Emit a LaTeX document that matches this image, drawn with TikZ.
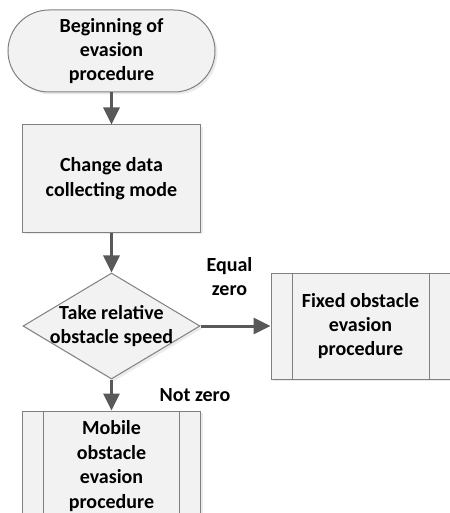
\documentclass[tikz,border=0pt]{standalone}
\usepackage{fontspec}
\setmainfont{Carlito}
\usepackage{tikz}
\usetikzlibrary{arrows.meta,positioning,shapes.geometric,shadows}
\definecolor{Edge}{HTML}{808080}
\definecolor{Pale}{HTML}{F2F2F2}
\definecolor{Ink}{HTML}{595959}

\begin{document}
\begin{tikzpicture}[node distance=16pt,font=\bfseries\fontsize{10}{12.2}\selectfont,
        base/.style={draw=Edge,line width=.5pt,fill=Pale,align=center,
          drop shadow={shadow xshift=1.2pt,shadow yshift=-1.2pt,fill=black,opacity=.08}},
        term/.style={base,rounded corners=20.5pt,minimum width=103.5pt,minimum height=41pt,inner sep=0pt},
        proc/.style={base,minimum width=89pt,minimum height=53.5pt},
        dec/.style={base,diamond,minimum width=88.5pt,minimum height=53pt,inner sep=-10pt},
        sub/.style={base,minimum width=89pt,minimum height=53pt,
          path picture={\draw[Edge,line width=.5pt]
            ([xshift=10.5pt]path picture bounding box.north west)--([xshift=10.5pt]path picture bounding box.south west)
            ([xshift=-10.5pt]path picture bounding box.north east)--([xshift=-10.5pt]path picture bounding box.south east);}},
        a/.style={-{Triangle[length=8.5pt,width=8pt]},line width=1.5pt,draw=Ink},
        lbl/.style={font=\bfseries\fontsize{10}{12.2}\selectfont,align=center}]
        \useasboundingbox (0,0) rectangle (224.5pt,-256.5pt);
        \node[term] (start) at (55.75pt,-25.5pt) {Beginning of\\evasion\\procedure};
        \node[proc,below=of start] (mode) {Change data\\collecting mode};
        \node[dec,below=20pt of mode] (speed) {Take relative\\obstacle speed};
        \node[sub,right=35pt of speed,minimum width=89.5pt] (fixed) {Fixed obstacle\\evasion\\procedure};
        \node[sub,below=15.5pt of speed,minimum height=55pt] (mobile) {Mobile\\obstacle\\evasion\\procedure};
        \draw[a] (start)--(mode); \draw[a] (mode)--(speed);
        \draw[a] (speed)-- node[lbl,above=11pt,xshift=-3pt] (eq) {Equal\\zero} (fixed);
        \draw[a] (speed)-- node[lbl,right=20pt] (nz) {Not zero} (mobile);
      \end{tikzpicture}
\end{document}
